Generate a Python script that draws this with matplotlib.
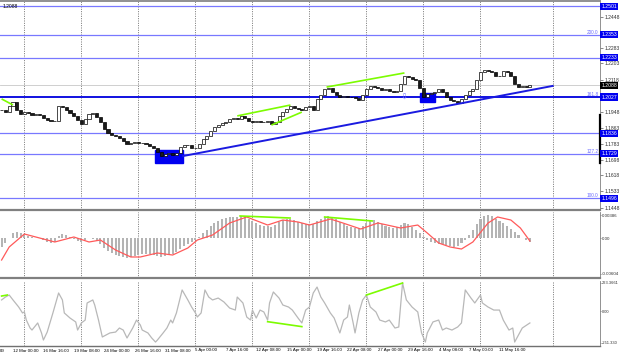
import matplotlib
matplotlib.use("Agg")
import matplotlib.pyplot as plt
import numpy as np
from matplotlib.transforms import blended_transform_factory
from matplotlib.patches import Rectangle

plt.rcParams['font.family'] = ['Liberation Sans', 'DejaVu Sans']

# ---------------- data ----------------
# 8-hour closes (each value spans two 4H slots on the time axis)
close = [1.1959,1.1948,1.1980,1.2001,1.1959,1.1938,1.1948,1.1943,1.1933,1.1938,
         1.1933,1.1917,1.1907,1.1901,1.1901,1.1980,1.1975,1.1959,1.1943,1.1928,
         1.1907,1.1886,1.1912,1.1938,1.1943,1.1922,1.1896,1.1859,1.1838,1.1828,
         1.1823,1.1812,1.1797,1.1781,1.1786,1.1791,1.1786,1.1786,1.1781,1.1770,
         1.1760,1.1739,1.1718,1.1729,1.1734,1.1723,1.1734,1.1765,1.1776,1.1776,
         1.1760,1.1760,1.1781,1.1807,1.1823,1.1849,1.1870,1.1880,1.1891,1.1896,
         1.1912,1.1917,1.1912,1.1928,1.1917,1.1901,1.1896,1.1901,1.1896,1.1896,
         1.1901,1.1886,1.1896,1.1928,1.1948,1.1964,1.1980,1.1969,1.1964,1.1959,
         1.1975,1.1980,1.1959,1.2017,1.2037,1.2069,1.2074,1.2053,1.2037,1.2027,
         1.2032,1.2027,1.2027,1.2022,1.2011,1.2037,1.2069,1.2085,1.2079,1.2074,
         1.2064,1.2069,1.2058,1.2053,1.2058,1.2095,1.2137,1.2132,1.2121,1.2116,
         1.2074,1.2027,1.2043,1.2048,1.2053,1.2069,1.2053,1.2027,1.2011,1.2006,
         1.1996,1.2017,1.2037,1.2058,1.2069,1.2116,1.2158,1.2168,1.2163,1.2158,
         1.2137,1.2137,1.2163,1.2158,1.2137,1.2095,1.2079,1.2085,1.2079,1.2090]

# MACD main (histogram), in units of 1e-4
macd_e4 = [-15.1,-8.4,0.0,8.4,10.1,8.4,6.7,3.4,1.7,0.3,
           -0.3,-3.4,-6.7,-8.4,-6.7,3.4,6.7,5.0,1.7,-1.7,
           -5.0,-6.7,-3.4,-0.5,-1.7,-5.0,-10.1,-16.8,-21.8,-25.2,
           -28.6,-30.2,-31.9,-33.6,-31.9,-30.2,-28.6,-26.9,-26.9,-26.9,
           -28.6,-30.2,-31.9,-30.2,-28.6,-26.9,-23.5,-18.5,-13.4,-10.1,
           -6.7,-3.4,1.7,8.4,13.4,20.2,25.2,28.6,31.9,33.6,
           35.3,35.3,35.3,37.0,35.3,31.9,28.6,25.2,21.8,20.2,
           20.2,18.5,21.8,26.9,30.2,31.9,31.9,30.2,26.9,25.2,
           23.5,23.5,23.5,28.6,31.9,35.3,37.0,35.3,31.9,26.9,
           23.5,20.2,18.5,16.8,16.8,20.2,25.2,28.6,30.2,26.9,
           23.5,20.2,18.5,16.8,18.5,21.8,25.2,23.5,18.5,13.4,
           8.4,1.7,-3.4,-6.7,-8.4,-10.1,-10.1,-11.8,-13.4,-15.1,
           -13.4,-8.4,-3.4,5.0,13.4,23.5,31.9,37.0,38.6,37.0,
           31.9,28.6,25.2,20.2,15.1,10.1,5.0,-0.5,-3.4,-6.7]

# MACD signal line (4H slot index, value 1e-4)
sig_idx = [0,4,12,20,28,38,46,52,60,68,73,82,90,98,103,111,120,129,140,148,
           156,162,173,178,189,198,210,219,224,230,236,242,248,256,261,268,273,278]
sig_e4 = [-37.0,-15.1,6.7,0.0,-6.7,1.7,-6.7,-3.4,-20.2,-31.9,-31.9,-25.2,-28.6,-16.8,-3.4,
          5.0,25.2,35.3,21.8,30.2,26.9,21.8,31.9,26.9,15.1,25.2,16.8,21.8,8.4,-8.4,
          -15.1,-18.5,-6.7,25.2,35.3,30.2,16.8,-5.0]

# CCI (4H slot index, value)
cci_idx = [0,2,4,6,9,11,12,13,15,16,
           19,21,22,24,27,30,32,33,36,39,
           40,42,44,45,48,49,51,53,57,60,
           62,64,66,69,71,73,74,77,79,81,
           82,85,87,89,90,92,95,98,100,102,
           103,105,107,109,111,114,117,120,123,124,
           127,129,131,132,134,136,138,140,141,143,
           146,148,151,153,156,158,160,162,164,166,
           168,170,173,175,178,180,182,183,185,186,
           188,190,192,194,197,199,202,204,207,209,
           211,213,216,219,221,223,224,227,230,232,
           234,237,240,242,244,247,249,252,253,256,
           259,262,264,267,269,270,272,274,278]
cci_val = [89,112,128,89,33,-14,-6,-70,-133,-149,
           -93,-172,-228,-165,-14,144,89,-14,-54,-85,
           -149,-93,-70,65,89,49,-70,-204,-172,-165,
           -133,-149,-212,-133,-70,-109,-149,-172,-212,-244,
           -228,-172,-133,-70,-93,-14,168,89,33,-14,
           -46,-14,168,112,89,104,73,25,9,112,
           65,-46,-70,9,-54,9,-6,-70,65,152,
           104,49,33,9,-54,-93,9,33,144,191,
           112,65,-14,-54,-172,-70,-46,49,-93,-172,
           -14,89,128,33,-6,-70,-85,-70,-133,-125,
           223,89,33,-6,-172,-244,-172,-85,-70,-149,
           -133,-149,-125,-93,168,104,65,128,65,33,
           9,9,-70,-149,-133,-244,-188,-133,-93]

# horizontal levels
level_prices = [1.2501, 1.2353, 1.2233, 1.2027, 1.1836, 1.1729, 1.1496]
level_labels = ['1.2501', '1.2353', '1.2233', '1.2027', '1.1836', '1.1729', '1.1496']
fib_prices = [1.2353, 1.2027, 1.1729, 1.1496]
fib_texts = ['200.0', '161.8', '127.2', '100.0']
current_price = 1.2088

price_ticks = [1.2448, 1.2283, 1.2203, 1.2118, 1.1948, 1.1863, 1.1783, 1.1698, 1.1618, 1.1533, 1.1448]

# trend line and boxes
trend_idx = [95.5, 290]
trend_price = [1.1718, 1.2085]
box_idx = [(80.7, 95.5), (220.2, 228.1)]
box_price = [(1.1681, 1.1749), (1.2001, 1.2048)]

# divergence lines (green)
green_main = [((0, 1.2017), (6, 1.1985)), ((124, 1.1928), (152, 1.1985)),
              ((142, 1.1880), (158, 1.1948)), ((171, 1.2079), (212, 1.2153))]
green_macd = [((125.5, 37.0), (151.8, 33.6)), ((170, 35.3), (195, 28.6))]
green_cci = [((0, 120), (3, 128)), ((140, -83), (158, -122)), ((192, 128), (211, 223))]

# time axis (first label is only partly visible at the left edge)
time_labels = ['00', '12 Mar 00:00', '16 Mar 16:00', '19 Mar 08:00', '24 Mar 00:00',
               '26 Mar 16:00', '31 Mar 08:00', '5 Apr 00:00', '7 Apr 16:00', '12 Apr 08:00',
               '15 Apr 00:00', '19 Apr 16:00', '22 Apr 08:00', '27 Apr 00:00', '29 Apr 16:00',
               '4 May 08:00', '7 May 00:00', '11 May 16:00']
time_label_idx = [-0.8, 6, 22, 38, 54, 70, 86, 102, 118, 134, 150, 166, 182, 198, 214, 230, 246, 262]
grid_idx = [12, 42, 72, 102, 132, 162, 192, 222, 252, 290]

# ---------------- figure ----------------
W, H = 620, 357
fig = plt.figure(figsize=(W / 100, H / 100), dpi=100)
fig.patch.set_facecolor('white')


def rect(l, t, r, b):
    return [l / W, 1 - b / H, (r - l) / W, (b - t) / H]


ax = fig.add_axes(rect(0, 1, 600, 210))
axm = fig.add_axes(rect(0, 212, 600, 278), sharex=ax)
axc = fig.add_axes(rect(0, 281, 600, 346), sharex=ax)

XL = (-0.84, 314.9)
ax.set_xlim(*XL)
ax.set_ylim(1.14354, 1.25296)
axm.set_ylim(-0.00672, 0.004368)
axc.set_ylim(-275.3, 238.9)

for a in (ax, axm, axc):
    a.set_facecolor('white')
    a.tick_params(axis='x', bottom=False, labelbottom=False)
    a.spines['left'].set_visible(False)
    a.spines['right'].set_color('#808080')
    a.spines['right'].set_linewidth(0.6)
    for gx in grid_idx:
        a.axvline(gx, color='#606060', lw=0.6, ls=(0, (1.2, 1.6)), zorder=1)

ax.spines['top'].set_color('#909090'); ax.spines['top'].set_linewidth(1.4)
ax.spines['bottom'].set_color('#808080'); ax.spines['bottom'].set_linewidth(1.6)
axm.spines['top'].set_visible(False)
axm.spines['bottom'].set_color('#808080'); axm.spines['bottom'].set_linewidth(1.6)
axc.spines['top'].set_visible(False)
axc.spines['bottom'].set_color('#707070'); axc.spines['bottom'].set_linewidth(1.0)

# ---- main panel ----
ax.axhline(current_price, color='#c8c8c8', lw=0.6, zorder=1)
for p in level_prices:
    if p == 1.2027:
        ax.axhline(p, color='#1010e0', lw=1.4, zorder=2)
    else:
        ax.axhline(p, color='#7878ff', lw=0.9, zorder=2)

for (x0, x1), (p0, p1) in zip(box_idx, box_price):
    ax.add_patch(Rectangle((x0, p0), x1 - x0, p1 - p0, facecolor='#0000f0',
                           edgecolor='#0000f0', zorder=2))

ax.plot(trend_idx, trend_price, color='#1a1ae0', lw=1.4, zorder=4)

cl = np.array(close)
op = np.r_[cl[0], cl[:-1]]
xc = np.arange(len(cl)) * 2
bottoms = np.minimum(op, cl)
heights = np.maximum(np.abs(cl - op), 0.00008)
faces = ['white' if c >= o else '#1a1a1a' for o, c in zip(op, cl)]
ax.bar(xc, heights, bottom=bottoms, width=1.6, color=faces, edgecolor='black',
       linewidth=0.5, zorder=3)

for (a0, a1) in green_main:
    ax.plot([a0[0], a1[0]], [a0[1], a1[1]], color='#7cfc00', lw=1.2, zorder=5, solid_capstyle='butt')

ax.text(212, 1.2027, '\u21e9', color='#6a6aff', fontsize=6, ha='center', va='center',
        family=['DejaVu Sans'], zorder=6)

ax.yaxis.tick_right()
ax.set_yticks(price_ticks)
ax.set_yticklabels(['%.4f' % t for t in price_ticks])
ax.tick_params(axis='y', length=2, width=0.4, labelsize=3.6, pad=1, colors='#303030')

trf = blended_transform_factory(fig.transFigure, ax.transData)
for p, lab in zip(level_prices, level_labels):
    ax.text(601.5 / W, p, lab, transform=trf, fontsize=3.7, color='white', ha='left', va='center',
            bbox=dict(boxstyle='square,pad=0.2', fc='#0000f0', ec='none'), zorder=10, clip_on=False)
ax.text(601.5 / W, current_price, '%.4f' % current_price, transform=trf, fontsize=3.7, color='white',
        ha='left', va='center', bbox=dict(boxstyle='square,pad=0.2', fc='black', ec='none'),
        zorder=11, clip_on=False)
for p, t in zip(fib_prices, fib_texts):
    ax.text(598.5 / W, p, t, transform=trf, fontsize=3.4, color='#6a6aff', ha='right', va='bottom')

ax.text(0.005, 0.985, '1.2088', transform=ax.transAxes, fontsize=3.6, color='black',
        ha='left', va='top')
ax.plot([1, 1], [0.225, 0.455], transform=ax.transAxes, color='black', lw=1.6, clip_on=False, zorder=9)

# ---- MACD panel ----
axm.bar(xc, np.array(macd_e4) * 1e-4, width=1.1, color='#b4b4b4', zorder=2)
axm.plot(sig_idx, np.array(sig_e4) * 1e-4, color='#ff5a5a', lw=0.9, zorder=3)
for (a0, a1) in green_macd:
    axm.plot([a0[0], a1[0]], [a0[1] * 1e-4, a1[1] * 1e-4], color='#7cfc00', lw=1.2, zorder=4)
axm.yaxis.tick_right()
axm.set_yticks([0.00386, 0.0, -0.00604])
axm.set_yticklabels(['0.00386', '0.00', '-0.00604'])
axm.tick_params(axis='y', length=1.0, width=0.4, labelsize=3.2, pad=0.5, colors='#303030')

# ---- CCI panel ----
axc.plot(cci_idx, cci_val, color='#b8b8b8', lw=0.9, zorder=2)
for (a0, a1) in green_cci:
    axc.plot([a0[0], a1[0]], [a0[1], a1[1]], color='#7cfc00', lw=1.2, zorder=4)
axc.yaxis.tick_right()
axc.set_yticks([223.3661, 0.0, -251.33])
axc.set_yticklabels(['223.3661', '0.00', '-251.330'])
axc.tick_params(axis='y', length=1.0, width=0.4, labelsize=2.9, pad=0.4, colors='#303030')

trc = blended_transform_factory(axc.transData, axc.transAxes)
for i, lab in zip(time_label_idx, time_labels):
    axc.text(i, -4.5 / 65, lab, transform=trc, fontsize=3.2, color='black', ha='left',
             va='center', clip_on=False)

fig.savefig('out.png', dpi=100, facecolor='white')
